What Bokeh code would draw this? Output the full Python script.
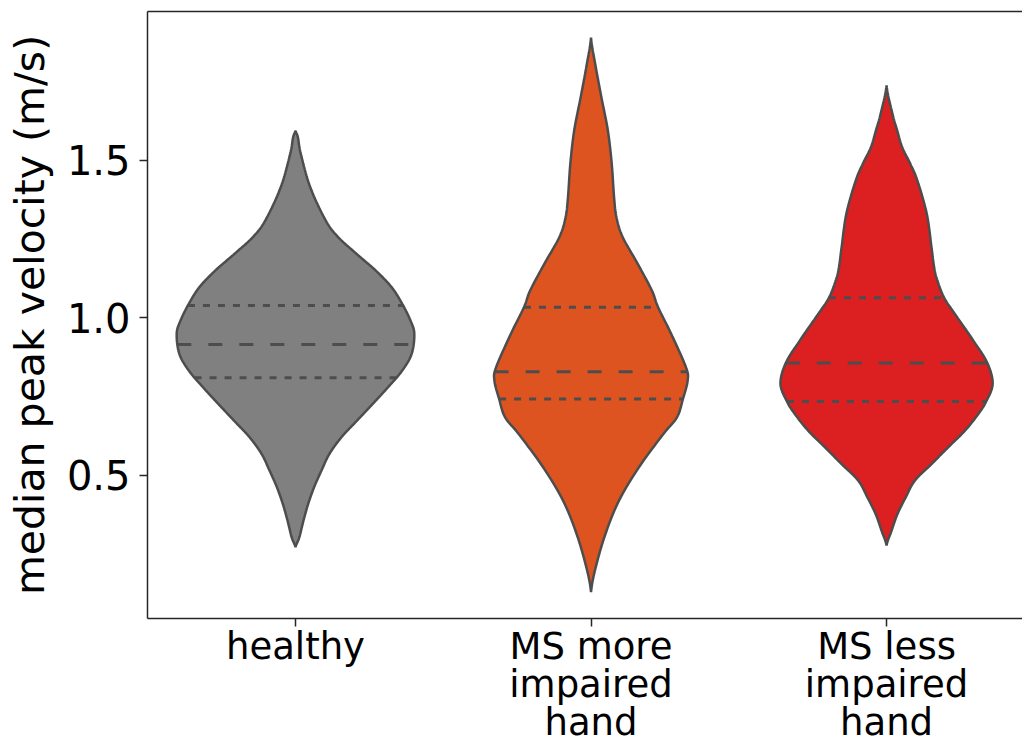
import numpy as np
from bokeh.plotting import figure
from bokeh.models import Range1d, FixedTicker, LinearAxis
from bokeh.embed import file_html
from bokeh.resources import INLINE

# ---------------- data ----------------
categories = ["healthy", "MS more impaired hand", "MS less impaired hand"]
label_line1 = ["healthy", "MS more", "MS less"]
label_line2 = ["", "impaired", "impaired"]
label_line3 = ["", "hand", "hand"]
colors = ["#808080", "#DE5420", "#DC1F20"]

# violin outlines: value (m/s) and half-width of the density (category units)
healthy_y = [1.595, 1.574, 1.521, 1.415, 1.310, 1.257, 1.204, 1.151, 1.098, 1.045,
             0.992, 0.950, 0.886, 0.833, 0.780, 0.728, 0.675, 0.622, 0.569, 0.516,
             0.463, 0.410, 0.357, 0.304, 0.272]
healthy_w = [0.000, 0.008, 0.018, 0.050, 0.102, 0.144, 0.206, 0.271, 0.325, 0.361,
             0.389, 0.402, 0.393, 0.361, 0.313, 0.262, 0.209, 0.156, 0.115, 0.088,
             0.063, 0.043, 0.027, 0.013, 0.000]

more_y = [1.890, 1.807, 1.701, 1.595, 1.490, 1.383, 1.320, 1.257, 1.172, 1.087,
          1.034, 0.950, 0.844, 0.802, 0.743, 0.685, 0.632, 0.526, 0.421, 0.315,
          0.209, 0.130]
more_w = [0.000, 0.014, 0.035, 0.057, 0.070, 0.078, 0.086, 0.107, 0.158, 0.206,
          0.227, 0.271, 0.321, 0.327, 0.311, 0.291, 0.245, 0.162, 0.095, 0.049,
          0.016, 0.000]

less_y = [1.738, 1.648, 1.595, 1.542, 1.490, 1.437, 1.331, 1.225, 1.161, 1.119,
          1.064, 1.013, 0.929, 0.857, 0.791, 0.735, 0.696, 0.643, 0.590, 0.537,
          0.484, 0.431, 0.378, 0.325, 0.278]
less_w = [0.000, 0.020, 0.036, 0.053, 0.080, 0.104, 0.136, 0.152, 0.161, 0.172,
          0.195, 0.231, 0.293, 0.341, 0.359, 0.337, 0.311, 0.266, 0.209, 0.153,
          0.096, 0.065, 0.037, 0.017, 0.000]

# quartiles: lower, median, upper
healthy_q = [0.810, 0.916, 1.040]
more_q = [0.743, 0.829, 1.034]
less_q = [0.735, 0.857, 1.064]

y_ticks = [0.5, 1.0, 1.5]
y_tick_labels = ["0.5", "1.0", "1.5"]
y_label = "median peak velocity (m/s)"

profiles = [(healthy_y, healthy_w, healthy_q),
            (more_y, more_w, more_q),
            (less_y, less_w, less_q)]


def smooth_outline(ys, ws, n=12):
    """Catmull-Rom curve through the read outline points (drawing only)."""
    ys = np.asarray(ys, float)
    ws = np.asarray(ws, float)
    py = np.concatenate([[2 * ys[0] - ys[1]], ys, [2 * ys[-1] - ys[-2]]])
    pw = np.concatenate([[0.0], ws, [0.0]])
    out_y, out_w = [], []
    for k in range(1, len(py) - 2):
        t = np.linspace(0, 1, n, endpoint=False)
        for arr, out in ((py, out_y), (pw, out_w)):
            p0, p1, p2, p3 = arr[k - 1], arr[k], arr[k + 1], arr[k + 2]
            out.extend(0.5 * ((2 * p1) + (-p0 + p2) * t +
                              (2 * p0 - 5 * p1 + 4 * p2 - p3) * t ** 2 +
                              (-p0 + 3 * p1 - 3 * p2 + p3) * t ** 3))
    out_y.append(ys[-1])
    out_w.append(ws[-1])
    return np.array(out_y), np.clip(np.array(out_w), 0, None)


# ---------------- figure ----------------
FONT = "DejaVu Sans"
EDGE = "#4d4d4d"
SPINE = "#262626"
XFS = "37px"

p = figure(width=1022, height=748,
           x_range=Range1d(-0.5008, 2.460), y_range=Range1d(0.046, 1.973),
           output_backend="svg", toolbar_location=None,
           min_border_left=147, min_border_right=0,
           min_border_top=11, min_border_bottom=130)
p.background_fill_color = "white"
p.border_fill_color = "white"
p.outline_line_color = None
p.xgrid.visible = False
p.ygrid.visible = False

# y axis
ya = p.yaxis[0]
ya.ticker = FixedTicker(ticks=y_ticks)
ya.major_label_overrides = {t: s for t, s in zip(y_ticks, y_tick_labels)}
ya.major_label_text_font = FONT
ya.major_label_text_font_size = "40px"
ya.major_label_text_color = "black"
ya.major_label_standoff = 9
ya.major_tick_out = 8
ya.major_tick_in = 0
ya.major_tick_line_width = 1.5
ya.major_tick_line_color = SPINE
ya.minor_tick_line_color = None
ya.axis_line_color = SPINE
ya.axis_line_width = 1.5
ya.axis_label = y_label
ya.axis_label_text_font = FONT
ya.axis_label_text_font_size = "41px"
ya.axis_label_text_font_style = "normal"
ya.axis_label_text_color = "black"
ya.axis_label_standoff = 10

# x axis: first line of each category label
ticks = list(range(len(categories)))
xa = p.xaxis[0]
xa.ticker = FixedTicker(ticks=ticks)
xa.major_label_overrides = {i: s for i, s in zip(ticks, label_line1)}
xa.major_label_text_font = FONT
xa.major_label_text_font_size = XFS
xa.major_label_text_color = "black"
xa.major_label_standoff = -2
xa.major_tick_out = 8
xa.major_tick_in = 0
xa.major_tick_line_width = 1.5
xa.major_tick_line_color = SPINE
xa.minor_tick_line_color = None
xa.axis_line_color = SPINE
xa.axis_line_width = 1.5

# further lines of the category labels, as extra label rows below
for lines, stand in ((label_line2, -8), (label_line3, -8)):
    t_used = [i for i, s in zip(ticks, lines) if s]
    extra = LinearAxis(ticker=FixedTicker(ticks=t_used),
                       major_label_overrides={i: s for i, s in zip(ticks, lines) if s},
                       major_label_text_font=FONT, major_label_text_font_size=XFS,
                       major_label_text_color="black", major_label_standoff=stand,
                       major_tick_out=0, major_tick_in=0, major_tick_line_color=None,
                       minor_tick_line_color=None, axis_line_color=None)
    p.add_layout(extra, "below")

# top spine
top = LinearAxis(ticker=FixedTicker(ticks=[]), major_tick_out=0, major_tick_in=0,
                 major_label_standoff=0, minor_tick_line_color=None,
                 major_tick_line_color=None, axis_line_color=SPINE, axis_line_width=1.5)
p.add_layout(top, "above")

# violins
for i, ((ys, ws, qs), col) in enumerate(zip(profiles, colors)):
    sy, sw = smooth_outline(ys, ws)
    xs = np.concatenate([i + sw, (i - sw)[::-1]])
    yy = np.concatenate([sy, sy[::-1]])
    p.patch(xs, yy, fill_color=col, line_color=EDGE, line_width=2.5)
    for k, q in enumerate(qs):
        w = float(np.interp(q, sy[::-1], sw[::-1]))
        dash = "14 17" if k == 1 else "7 8"
        p.segment(x0=[i - w], x1=[i + w], y0=[q], y1=[q],
                  line_color=EDGE, line_width=3, line_dash=dash)

open("out.html", "w").write(file_html(p, INLINE))
